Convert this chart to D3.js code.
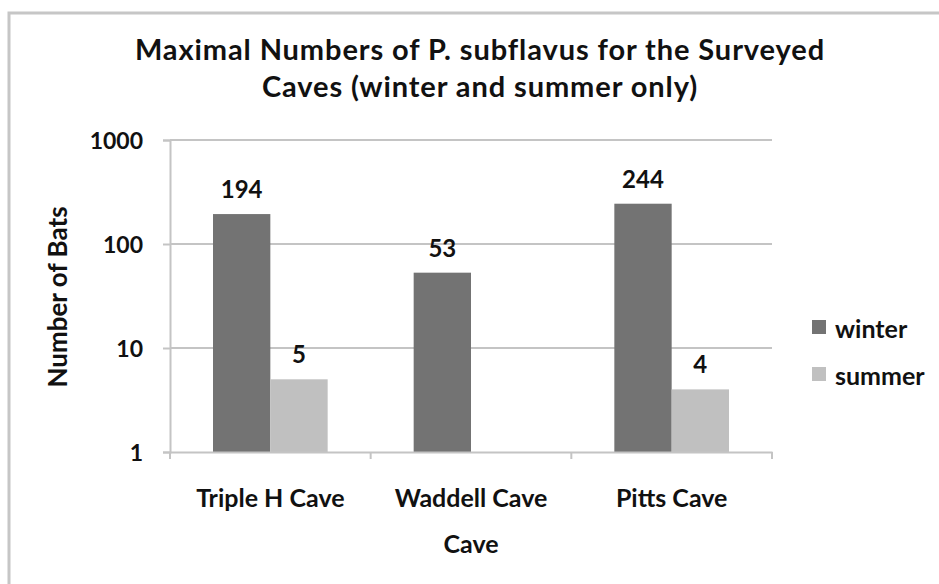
<!doctype html>
<html lang="en">
<head>
<meta charset="utf-8">
<title>Maximal Numbers of P. subflavus</title>
<script src="https://d3js.org/d3.v7.min.js"></script>
<style>
  body { margin: 0; background: #fff; }
  svg { font-family: Lato, "Open Sans", sans-serif; font-weight: bold; }
  text { fill: #111; }
</style>
</head>
<body>
<svg width="939" height="584"></svg>
<script>

// data
var caves = ["Triple H Cave", "Waddell Cave", "Pitts Cave"];
var seasons = ["winter", "summer"];
var winter = [194, 53, 244];
var summer = [5, null, 4];
var yTicks = [1, 10, 100, 1000];
var colors = ["#737373", "#c0c0c0"];

var svg = d3.select("svg");

// chart area border
svg.append("rect")
    .attr("x", 9).attr("y", 13)
    .attr("width", 960).attr("height", 600)
    .attr("fill", "#fff")
    .attr("stroke", "#c6c6c6")
    .attr("stroke-width", 3);

var plotLeft = 170, plotRight = 772, plotTop = 140, plotBottom = 452;

var x = d3.scaleBand().domain(caves).range([plotLeft, plotRight]);
var y = d3.scaleLog().domain([1, 1000]).range([plotBottom, plotTop]);
var barW = x.bandwidth() / 3.5;
var xs = d3.scaleBand().domain(seasons).range([0, 2 * barW]);
var gridColor = "#c4c4c4";

// gridlines
svg.append("g").selectAll("line")
    .data(yTicks.slice(1)).enter().append("line")
    .attr("x1", plotLeft).attr("x2", plotRight)
    .attr("y1", function(d) { return y(d); })
    .attr("y2", function(d) { return y(d); })
    .attr("stroke", gridColor).attr("stroke-width", 2);

// y axis
var yAxis = svg.append("g")
    .attr("transform", "translate(" + plotLeft + ",0)")
    .call(d3.axisLeft(y).tickValues(yTicks).tickFormat(d3.format("d")).tickSize(7).tickPadding(20));
yAxis.select(".domain").attr("stroke", gridColor).attr("stroke-width", 2);
yAxis.selectAll(".tick line").attr("stroke", gridColor).attr("stroke-width", 2);
yAxis.selectAll(".tick text").attr("font-size", 23).attr("font-family", "Lato").attr("font-weight", "bold").attr("fill", "#111").attr("dy", "0.36em");

// bars
var rows = [];
caves.forEach(function(c, i) {
    rows.push({cave: c, season: "winter", value: winter[i]});
    if (summer[i] != null) rows.push({cave: c, season: "summer", value: summer[i]});
});

var groupOffset = (x.bandwidth() - 2 * barW) / 2;

svg.append("g").selectAll("rect")
    .data(rows).enter().append("rect")
    .attr("x", function(d) { return x(d.cave) + groupOffset + xs(d.season); })
    .attr("y", function(d) { return y(d.value); })
    .attr("width", barW)
    .attr("height", function(d) { return y(1) - y(d.value); })
    .attr("fill", function(d) { return colors[seasons.indexOf(d.season)]; });

// data labels
svg.append("g").selectAll("text")
    .data(rows).enter().append("text")
    .attr("x", function(d) { return x(d.cave) + groupOffset + xs(d.season) + barW / 2; })
    .attr("y", function(d) { return y(d.value) - 16; })
    .attr("text-anchor", "middle")
    .attr("font-size", 24)
    .text(function(d) { return d.value; });

// x axis
var xAxis = svg.append("g")
    .attr("transform", "translate(0," + plotBottom + ")")
    .call(d3.axisBottom(x).tickSize(0).tickPadding(0));
xAxis.select(".domain").attr("stroke", gridColor).attr("stroke-width", 2);
xAxis.selectAll(".tick text").attr("font-size", 25).attr("font-family", "Lato").attr("font-weight", "bold")
    .attr("fill", "#111").attr("dy", null).attr("y", 55);

// category separators on the x axis
var seps = caves.map(function(c) { return x(c); }).concat([x(caves[caves.length - 1]) + x.bandwidth()]);
svg.append("g").selectAll("line")
    .data(seps).enter().append("line")
    .attr("x1", function(d) { return d; }).attr("x2", function(d) { return d; })
    .attr("y1", plotBottom).attr("y2", plotBottom + 7)
    .attr("stroke", gridColor).attr("stroke-width", 2);

// titles
svg.append("text").attr("x", 480).attr("y", 60).attr("text-anchor", "middle")
    .attr("font-size", 29).attr("letter-spacing", 0.9)
    .text("Maximal Numbers of P. subflavus for the Surveyed");
svg.append("text").attr("x", 480).attr("y", 97).attr("text-anchor", "middle")
    .attr("font-size", 29).attr("letter-spacing", 0.9)
    .text("Caves (winter and summer only)");

svg.append("text").attr("transform", "translate(67,297) rotate(-90)").attr("text-anchor", "middle")
    .attr("font-size", 26).text("Number of Bats");
svg.append("text").attr("x", 471).attr("y", 553).attr("text-anchor", "middle")
    .attr("font-size", 25).text("Cave");

// legend
var legend = svg.append("g").selectAll("g")
    .data(seasons).enter().append("g")
    .attr("transform", function(d, i) { return "translate(812," + (320 + i * 47) + ")"; });
legend.append("rect").attr("width", 14).attr("height", 14)
    .attr("fill", function(d, i) { return colors[i]; });
legend.append("text").attr("x", 23).attr("y", 18).attr("font-size", 25)
    .text(function(d) { return d; });

</script>
</body>
</html>
